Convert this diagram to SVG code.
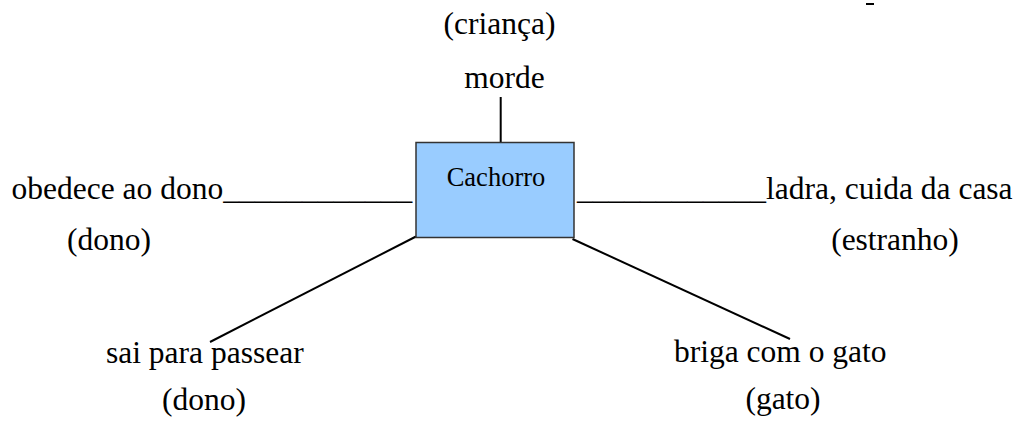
<svg xmlns="http://www.w3.org/2000/svg" width="1026" height="428" viewBox="0 0 1026 428">
<style>
text{font-family:'Liberation Serif','DejaVu Serif',serif;font-size:31.5px;fill:#000}
.c{text-anchor:middle}
.ln{stroke:#000;stroke-width:2;fill:none}
</style>
<rect width="1026" height="428" fill="#fff"/>
<g id="connectors">
<line class="ln" x1="500.7" y1="97" x2="500.7" y2="142"/>
<line class="ln" x1="416" y1="236.5" x2="210" y2="342"/>
<line class="ln" x1="572.5" y1="239" x2="790" y2="339"/>
<line class="ln" x1="866" y1="4" x2="874" y2="4"/>
</g>
<g id="cachorro">
<rect x="416" y="142.5" width="158" height="95" fill="#99CCFF" stroke="#333" stroke-width="1.5"/>
<text class="c" x="496" y="186" font-family="Liberation Serif, serif" style="font-size:26.5px">Cachorro</text>
</g>
<g id="morde">
<text class="c" x="499.5" y="34" font-family="Liberation Serif, serif">(criança)</text>
<text class="c" x="504.5" y="88" font-family="Liberation Serif, serif">morde</text>
</g>
<g id="obedece">
<text x="11.5" y="199" font-family="Liberation Serif, serif">obedece ao dono____________</text>
<text class="c" x="109" y="250" font-family="Liberation Serif, serif">(dono)</text>
</g>
<g id="ladra">
<text x="577" y="199" font-family="Liberation Serif, serif">____________ladra, cuida da casa</text>
<text class="c" x="895" y="250" font-family="Liberation Serif, serif">(estranho)</text>
</g>
<g id="passear">
<text x="106" y="363" font-family="Liberation Serif, serif">sai para passear</text>
<text class="c" x="204" y="410" font-family="Liberation Serif, serif">(dono)</text>
</g>
<g id="briga">
<text x="674" y="362" font-family="Liberation Serif, serif">briga com o gato</text>
<text class="c" x="783" y="409" font-family="Liberation Serif, serif">(gato)</text>
</g>
</svg>
